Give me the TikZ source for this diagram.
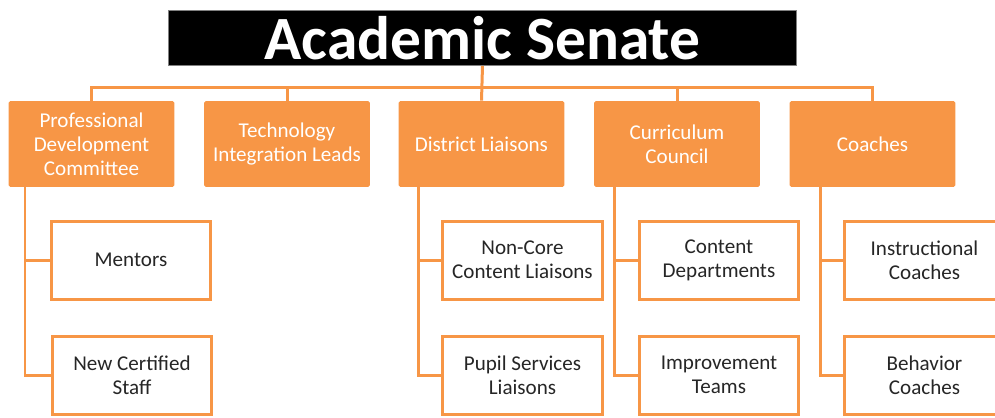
\documentclass[tikz,border=0pt]{standalone}
\usepackage{fontspec}
\setmainfont{Carlito}
\usetikzlibrary{calc}
\definecolor{accorange}{HTML}{F79646}
\definecolor{textgray}{HTML}{262626}

\begin{document}
\begin{tikzpicture}[x=0.02cm,y=-0.02cm,
    every node/.style={align=center,inner sep=2pt,font=\fontsize{12}{13.6}\selectfont},
    topbox/.style={rectangle,fill=accorange,text=white,minimum width=3.32cm,minimum height=1.72cm,rounded corners=1pt},
    subbox/.style={rectangle,draw=accorange,line width=0.06cm,fill=white,text=textgray,minimum width=3.2cm,minimum height=1.56cm},
    link/.style={draw=accorange,line width=0.06cm}]
    \useasboundingbox (0,0) rectangle (995,417);
    % 标题
    \node[fill=black,draw=gray,minimum width=12.56cm,minimum height=1.1cm,text=white,
          font=\fontsize{35}{40}\selectfont\bfseries] (senate) at (482.5,38) {Academic Senate};
    % 第一层
    \foreach \i/\x/\t in {1/91.5/{Professional\\Development\\Committee},
                          2/287/{Technology\\Integration Leads},
                          3/481.5/{District Liaisons},
                          4/677/{Curriculum\\Council},
                          5/872.5/{Coaches}} {
        \node[topbox] (p\i) at (\x,144) {\t};
    }
    % 第二层
    \foreach \n/\x/\y/\t in {m1/131/260/{Mentors},
                             m2/132/375/{New Certified\\Staff},
                             d1/522.5/260/{Non-Core\\Content Liaisons},
                             d2/522.5/375/{Pupil Services\\Liaisons},
                             c1/719/260/{Content\\Departments},
                             c2/719/375/{Improvement\\Teams},
                             h1/924.5/260/{Instructional\\Coaches},
                             h2/924.5/375/{Behavior\\Coaches}} {
        \node[subbox] (\n) at (\x,\y) {\t};
    }
    % 上方连线
    \coordinate (bus) at (481.5,87);
    \draw[link] (senate.south) -- (p3.north);
    \draw[link] (p1.north) |- (bus) -| (p5.north);
    \foreach \i in {2,4} {
        \draw[link] (p\i.north) -- (p\i.north |- bus);
    }
    % 下方连线
    \foreach \p/\a/\b/\tx in {p1/m1/m2/25, p3/d1/d2/418, p4/c1/c2/614, p5/h1/h2/820} {
        \coordinate (\p-t) at (\tx,187);
        \draw[link] (\p-t) |- (\b.west);
        \draw[link] (\p-t |- \a.west) -- (\a.west);
    }
\end{tikzpicture}
\end{document}
